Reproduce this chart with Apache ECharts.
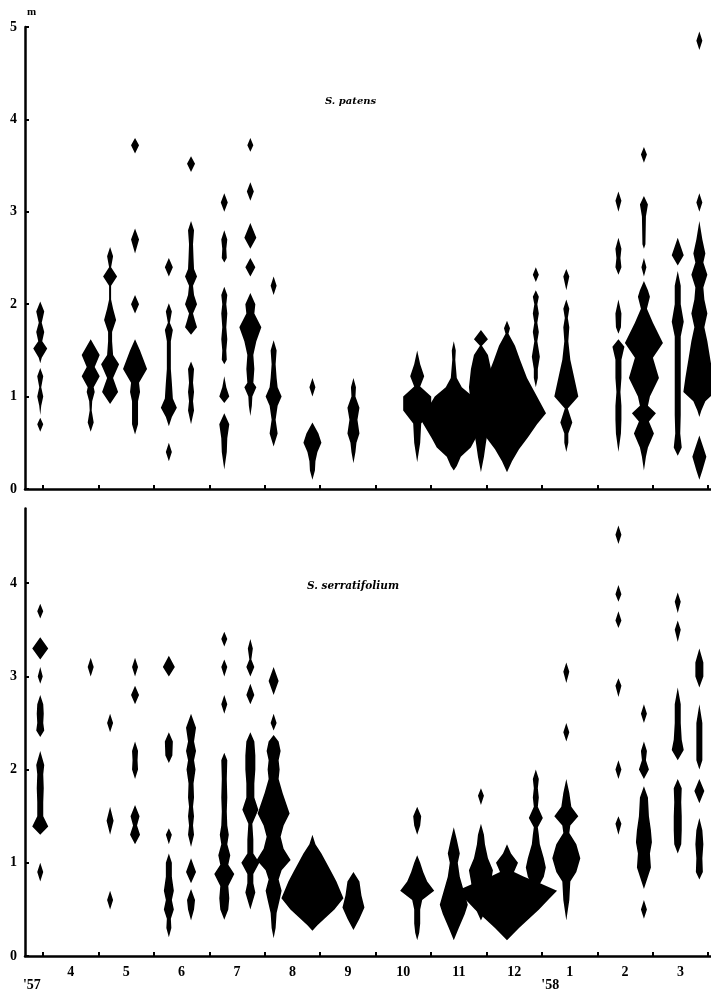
<!DOCTYPE html>
<html>
<head>
<meta charset="utf-8">
<script src="https://cdn.jsdelivr.net/npm/echarts@6/dist/echarts.min.js"></script>
<style>
html,body{margin:0;padding:0;background:#fff;}
#chart{width:711px;height:995px;}
</style>
</head>
<body>
<div id="chart"></div>
<script>
// Sampling dates, in months counted from 1 April 1957 (0 = Apr 1, 12 = Apr 1 1958)
const sampleMonths = [-0.05, 0.86, 1.21, 1.66, 2.27, 2.67, 3.27, 3.74, 4.16, 4.86, 5.60,
  6.75, 7.41, 7.90, 8.37, 8.89, 9.44, 10.38, 10.84, 11.45, 11.84];

// Month tick labels (placed mid-month) and year labels
const monthLabels = ['4','5','6','7','8','9','10','11','12','1','2','3'];
const monthLabelPos = [0.5,1.5,2.5,3.5,4.5,5.5,6.5,7.5,8.5,9.5,10.5,11.5];
const monthTicks = [0,1,2,3,4,5,6,7,8,9,10,11,12];
const yearLabels = ["'57", "'58"];
const yearLabelPos = [-0.2, 9.15];

// Kite profiles: [depth (m), relative abundance (half-width)] for each sampling date
const patensProfiles = [
  [[2.03,0],[1.92,4],[1.8,1.5],[1.7,4],[1.6,2],[1.52,7],[1.42,1.5],[1.36,0],[1.31,0],[1.22,3],[1.1,1],[1.0,3],[0.9,1],[0.8,0],[0.77,0],[0.7,3],[0.62,0]],
  [[1.62,0],[1.45,9],[1.32,4],[1.22,9],[1.1,3],[1.05,4],[0.95,1.5],[0.85,1],[0.72,3],[0.62,0]],
  [[2.62,0],[2.52,3],[2.4,1],[2.3,7],[2.2,1],[2.05,1],[1.95,3],[1.83,6],[1.7,2],[1.6,2],[1.45,3],[1.35,9],[1.2,3],[1.05,8],[0.92,0]],
  [[3.8,0],[3.72,4],[3.63,0],[2.82,0],[2.7,4],[2.55,0],[2.1,0],[2.0,4],[1.9,0],[1.62,0],[1.5,5],[1.3,12],[1.15,4],[1.05,5],[0.95,3],[0.8,3],[0.7,3],[0.59,0]],
  [[2.5,0],[2.4,4],[2.3,0],[2.01,0],[1.92,3],[1.8,1],[1.72,4],[1.6,2],[1.45,2],[1.3,2],[1.15,3],[0.98,4],[0.88,8],[0.78,3],[0.68,0],[0.5,0],[0.4,3],[0.3,0]],
  [[3.6,0],[3.52,4],[3.43,0],[2.9,0],[2.8,3],[2.65,2],[2.5,2.5],[2.38,3],[2.3,6],[2.2,2],[2.1,3],[2.0,6],[1.9,2],[1.82,4],[1.75,6],[1.67,0],[1.38,0],[1.3,3],[1.15,2],[1.05,3],[0.95,2],[0.85,3],[0.7,0]],
  [[3.2,0],[3.1,3.5],[3.0,0],[2.8,0],[2.7,3],[2.6,2],[2.5,2.5],[2.45,0],[2.19,0],[2.1,3],[2.0,2],[1.9,3],[1.75,2],[1.62,3],[1.5,2],[1.4,2.5],[1.35,0],[1.22,0],[1.1,2],[1.0,5],[0.93,0],[0.82,0],[0.7,5],[0.55,3],[0.4,2.5],[0.21,0]],
  [[3.8,0],[3.72,3],[3.65,0],[3.32,0],[3.22,3.5],[3.12,0],[2.88,0],[2.72,6],[2.6,0],[2.5,0],[2.4,5],[2.3,0],[2.12,0],[2.0,5],[1.9,4],[1.75,11],[1.6,6],[1.45,3],[1.3,4],[1.15,3],[1.1,6],[1.0,2],[0.9,1.5],[0.79,0]],
  [[2.3,0],[2.2,3],[2.1,0],[1.61,0],[1.5,3],[1.35,2],[1.2,3],[1.1,4],[1.0,8],[0.9,4],[0.75,2],[0.6,4],[0.46,0]],
  [[1.2,0],[1.1,3],[1.0,0],[0.72,0],[0.6,6],[0.5,9],[0.4,5],[0.3,3],[0.2,2.5],[0.1,0]],
  [[1.2,0],[1.1,2.5],[1.0,2],[0.88,6],[0.75,4],[0.6,6],[0.5,3],[0.4,2],[0.28,0]],
  [[1.5,0],[1.35,3],[1.22,7],[1.11,3],[1.0,14],[0.85,14],[0.71,4],[0.5,3],[0.29,0]],
  [[1.6,0],[1.5,2],[1.4,1.5],[1.2,3],[1.1,8],[1.0,19],[0.75,33],[0.55,22],[0.45,17],[0.35,7],[0.25,3],[0.2,0]],
  [[1.72,0],[1.62,7],[1.55,1],[1.45,7],[1.3,10],[1.1,12],[0.9,10],[0.7,8],[0.5,5],[0.35,3],[0.18,0]],
  [[1.82,0],[1.74,3],[1.68,1.5],[1.55,8],[1.4,13],[1.2,20],[1.0,30],[0.82,39],[0.7,30],[0.56,21],[0.43,12],[0.3,5],[0.18,0]],
  [[2.4,0],[2.32,3],[2.24,0],[2.15,0],[2.08,3],[2.0,1.5],[1.9,3],[1.8,1.5],[1.7,3],[1.6,1.5],[1.5,3],[1.43,4],[1.3,2],[1.2,2],[1.1,0]],
  [[2.38,0],[2.3,3],[2.15,0],[2.05,0],[1.95,3],[1.85,1.5],[1.75,3],[1.6,2],[1.5,3],[1.4,4],[1.25,7],[1.0,12],[0.87,1.5],[0.72,6],[0.6,2],[0.5,2],[0.4,0]],
  [[3.22,0],[3.12,3],[3.0,0],[2.72,0],[2.6,3],[2.5,2],[2.4,3],[2.32,0],[2.05,0],[1.9,3],[1.75,2.5],[1.68,0],[1.62,0],[1.54,6],[1.4,3],[1.2,3],[1.05,2],[0.9,3],[0.75,3],[0.6,2.5],[0.4,0]],
  [[3.7,0],[3.62,3],[3.53,0],[3.17,0],[3.08,4],[2.95,2],[2.65,1.5],[2.6,0],[2.5,0],[2.4,2.5],[2.3,0],[2.25,0],[2.15,4],[2.08,6],[1.95,3],[1.8,9],[1.58,19],[1.42,9],[1.2,15],[1.0,6],[0.9,4],[0.82,12],[0.73,5],[0.6,10],[0.45,4],[0.35,2],[0.2,0]],
  [[2.72,0],[2.53,6],[2.42,0],[2.36,0],[2.2,3],[2.0,3],[1.81,6],[1.65,3],[1.4,3],[1.2,3],[1.0,3],[0.8,3],[0.6,2.5],[0.45,4],[0.36,0]],
  [[4.95,0],[4.85,3],[4.75,0],[3.2,0],[3.1,3],[3.0,0],[2.9,0],[2.7,3],[2.55,6],[2.45,4],[2.32,8],[2.18,4],[2.05,5],[1.9,8],[1.75,5],[1.6,8],[1.4,11],[1.2,14],[1.05,16],[0.95,6],[0.85,2],[0.78,0],[0.58,0],[0.45,4],[0.35,7],[0.2,3],[0.1,0]]
];

const serratifoliumProfiles = [
  [[3.78,0],[3.7,3],[3.62,0],[3.42,0],[3.3,8],[3.18,0],[3.1,0],[3.0,2.5],[2.92,0],[2.8,0],[2.7,3],[2.6,3.5],[2.5,3],[2.42,4],[2.35,0],[2.2,0],[2.05,4],[1.95,3],[1.8,3.5],[1.65,3],[1.5,3],[1.39,8],[1.3,0],[1.0,0],[0.9,3],[0.8,0]],
  [[3.2,0],[3.1,3],[3.0,0]],
  [[2.6,0],[2.5,3],[2.4,0],[1.6,0],[1.45,3.5],[1.3,0],[0.7,0],[0.6,3],[0.5,0]],
  [[3.2,0],[3.1,3],[3.0,0],[2.9,0],[2.8,4],[2.7,0],[2.3,0],[2.2,3],[2.1,2.5],[2.0,3],[1.9,0],[1.62,0],[1.5,4.5],[1.4,2],[1.3,5],[1.2,0]],
  [[3.22,0],[3.1,6],[3.0,0],[2.4,0],[2.3,4],[2.15,3.5],[2.07,0],[1.37,0],[1.3,3],[1.2,0],[1.1,0],[1.0,3],[0.85,3],[0.7,5],[0.6,3],[0.5,5],[0.4,2],[0.3,2.5],[0.2,0]],
  [[2.6,0],[2.45,5],[2.3,3],[2.2,5],[2.1,3],[2.0,4.5],[1.85,2.5],[1.7,3],[1.6,2],[1.5,3],[1.4,2],[1.3,3],[1.17,0],[1.05,0],[0.9,5],[0.78,0],[0.72,0],[0.6,4],[0.5,3],[0.38,0]],
  [[3.48,0],[3.4,3],[3.32,0],[3.18,0],[3.1,3],[3.0,0],[2.8,0],[2.7,3],[2.6,0],[2.18,0],[2.1,3],[1.9,2.5],[1.7,3],[1.55,2.5],[1.4,3],[1.3,4.5],[1.2,3],[1.08,6],[0.98,4],[0.88,10],[0.75,4],[0.62,5],[0.5,4],[0.39,0]],
  [[3.4,0],[3.3,2.5],[3.18,1],[3.1,4],[3.0,0],[2.92,0],[2.8,4],[2.7,0],[2.4,0],[2.3,4],[2.15,5],[2.0,5],[1.85,4],[1.7,4],[1.57,8],[1.42,2],[1.25,3],[1.1,3],[1.0,9],[0.88,3],[0.78,3],[0.68,5],[0.5,0]],
  [[3.1,0],[2.95,5],[2.8,0],[2.6,0],[2.5,3],[2.42,0],[2.37,0],[2.3,5],[2.2,7],[2.1,5],[2.0,6],[1.9,5],[1.75,9],[1.53,16],[1.4,10],[1.28,7],[1.15,10],[1.03,17],[0.92,8],[0.82,5],[0.7,8],[0.6,6],[0.46,3],[0.3,2],[0.19,0]],
  [[1.3,0],[1.2,3],[1.1,9],[1.0,14],[0.9,19],[0.8,24],[0.62,31],[0.5,22],[0.4,12],[0.33,5],[0.27,0]],
  [[0.9,0],[0.8,6],[0.65,8],[0.52,11],[0.4,6],[0.28,0]],
  [[1.6,0],[1.5,4],[1.4,3],[1.3,0],[1.08,0],[1.0,3],[0.9,6],[0.8,10],[0.7,17],[0.6,5],[0.5,3],[0.35,3],[0.25,2],[0.17,0]],
  [[1.38,0],[1.25,3],[1.1,6],[1.0,4],[0.85,6],[0.7,10],[0.55,14],[0.45,11],[0.3,5],[0.17,0]],
  [[1.8,0],[1.72,3],[1.62,0],[1.42,0],[1.3,3],[1.2,4],[1.05,7],[0.92,12],[0.8,10],[0.65,8],[0.5,5],[0.38,0]],
  [[1.2,0],[1.1,4],[1.0,11],[0.9,7],[0.85,17],[0.78,33],[0.7,50],[0.6,41],[0.5,32],[0.4,22],[0.3,12],[0.17,0]],
  [[2.0,0],[1.9,3],[1.8,2],[1.7,3],[1.6,2],[1.48,7],[1.38,2],[1.3,3],[1.2,4],[1.05,8],[0.95,10],[0.85,8],[0.75,3],[0.7,0]],
  [[3.15,0],[3.05,3],[2.93,0],[2.5,0],[2.4,3],[2.3,0],[1.9,0],[1.75,3],[1.6,5],[1.5,12],[1.4,4],[1.32,3],[1.2,10],[1.05,14],[0.9,10],[0.8,4],[0.6,3],[0.38,0]],
  [[4.62,0],[4.52,3],[4.42,0],[3.98,0],[3.88,3],[3.8,0],[3.7,0],[3.6,3],[3.52,0],[2.98,0],[2.9,3],[2.78,0],[2.1,0],[2.0,3],[1.9,0],[1.5,0],[1.42,3],[1.3,0]],
  [[2.7,0],[2.6,3],[2.5,0],[2.3,0],[2.2,3],[2.1,2],[2.0,5],[1.9,0],[1.82,0],[1.7,4],[1.5,5],[1.35,7],[1.22,8],[1.1,6],[0.95,7],[0.85,4],[0.72,0],[0.6,0],[0.5,3],[0.4,0]],
  [[3.9,0],[3.8,3],[3.68,0],[3.6,0],[3.5,3],[3.37,0],[2.88,0],[2.7,3],[2.5,3],[2.32,4],[2.21,6],[2.1,0],[1.9,0],[1.8,4],[1.65,3.5],[1.5,4],[1.35,4],[1.2,3.5],[1.1,0]],
  [[3.3,0],[3.15,4],[3.0,4],[2.88,0],[2.7,0],[2.5,3],[2.3,3],[2.1,3],[2.0,0],[1.9,0],[1.77,5],[1.64,0],[1.48,0],[1.35,3],[1.2,4],[1.05,3],[0.9,3.5],[0.82,0]]
];

const speciesNames = ['S. patens', 'S. serratifolium'];

// ---- styling / layout ----
const XMIN = -0.325, XMAX = 12.05;
const WIDTH_TO_MONTHS = 1 / 55.4;   // abundance unit -> x data units
const FONT = '"Liberation Serif", "DejaVu Serif", serif';
const TITLE_FONT = '"DejaVu Serif", "Liberation Serif", serif';

function kiteSeries(profiles, gridIdx) {
  return {
    type: 'custom',
    xAxisIndex: gridIdx === 0 ? 0 : 1,
    yAxisIndex: gridIdx,
    silent: true,
    animation: false,
    clip: true,
    data: sampleMonths.map(m => [m, 0]),
    renderItem: function (params, api) {
      const prof = profiles[params.dataIndex];
      const x = api.value(0);
      const left = prof.map(p => api.coord([x - p[1] * WIDTH_TO_MONTHS, p[0]]));
      const right = prof.slice().reverse().map(p => api.coord([x + p[1] * WIDTH_TO_MONTHS, p[0]]));
      return {
        type: 'polygon',
        shape: { points: left.concat(right) },
        style: { fill: '#000' }
      };
    }
  };
}

const axisLineStyle = { color: '#000', width: 2.5 };

function xAxisBase(gridIndex) {
  return {
    gridIndex: gridIndex, type: 'value', min: XMIN, max: XMAX,
    axisLine: { show: true, onZero: false, lineStyle: axisLineStyle },
    axisTick: { show: true, inside: true, length: 4, customValues: monthTicks, lineStyle: { color: '#000', width: 2 } },
    axisLabel: { show: false },
    splitLine: { show: false }
  };
}

const xTop = xAxisBase(0);
const xBottom = xAxisBase(1);
xBottom.axisLabel = {
  show: true, customValues: monthLabelPos, margin: 9,
  fontFamily: FONT, fontWeight: 'bold', fontSize: 14, color: '#000',
  formatter: function (v) {
    const i = monthLabelPos.findIndex(p => Math.abs(p - v) < 1e-6);
    return i >= 0 ? monthLabels[i] : '';
  }
};
const xYear = {
  gridIndex: 1, type: 'value', min: XMIN, max: XMAX, position: 'bottom', offset: 0,
  axisLine: { show: false, onZero: false }, axisTick: { show: false }, splitLine: { show: false },
  axisLabel: {
    show: true, customValues: yearLabelPos, margin: 22,
    fontFamily: FONT, fontWeight: 'bold', fontSize: 14, color: '#000',
    formatter: function (v) {
      const i = yearLabelPos.findIndex(p => Math.abs(p - v) < 1e-6);
      return i >= 0 ? yearLabels[i] : '';
    }
  }
};

function yAxisBase(gridIndex, max) {
  return {
    gridIndex: gridIndex, type: 'value', min: 0, max: max, interval: 1,
    axisLine: { show: true, onZero: false, lineStyle: axisLineStyle },
    axisTick: { show: true, inside: true, length: 4, lineStyle: { color: '#000', width: 2 } },
    axisLabel: { show: true, margin: 8, fontFamily: FONT, fontWeight: 'bold', fontSize: 14, color: '#000', showMaxLabel: gridIndex === 0 },
    splitLine: { show: false }
  };
}
const yTop = yAxisBase(0, 5);
yTop.name = 'm';
yTop.nameLocation = 'end';
yTop.nameGap = 9;
yTop.nameTextStyle = { fontFamily: FONT, fontWeight: 'bold', fontSize: 11, color: '#000', align: 'left', padding: [0, 0, 0, 2] };
const yBottom = yAxisBase(1, 4.8);

const chart = echarts.init(document.getElementById('chart'), null, { renderer: 'canvas' });
chart.setOption({
  backgroundColor: '#fff',
  animation: false,
  title: [
    { text: speciesNames[0], left: 320, top: 91,
      textStyle: { fontFamily: TITLE_FONT, fontStyle: 'italic', fontWeight: 'bold', fontSize: 10, color: '#000' } },
    { text: speciesNames[1], left: 302, top: 576,
      textStyle: { fontFamily: TITLE_FONT, fontStyle: 'italic', fontWeight: 'bold', fontSize: 10.5, color: '#000' } }
  ],
  grid: [
    { left: 25, right: 0, top: 27, height: 462 },
    { left: 25, right: 0, top: 508.6, height: 447.4 }
  ],
  xAxis: [xTop, xBottom, xYear],
  yAxis: [yTop, yBottom],
  series: [
    kiteSeries(patensProfiles, 0),
    kiteSeries(serratifoliumProfiles, 1)
  ]
});
</script>
</body>
</html>
